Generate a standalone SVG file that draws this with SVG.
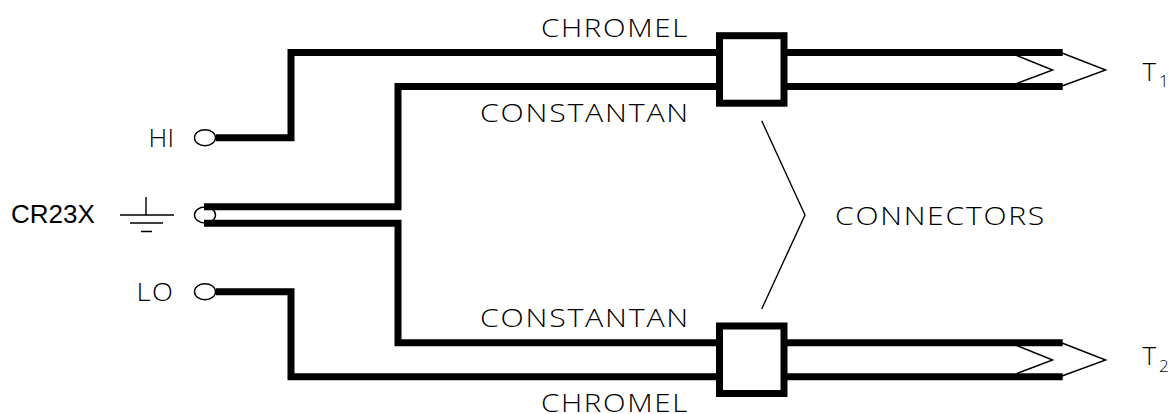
<svg xmlns="http://www.w3.org/2000/svg" width="1168" height="414" viewBox="0 0 1168 414">
<style>
.w{fill:none;stroke:#000;stroke-width:7;stroke-linejoin:miter}
.t{fill:none;stroke:#000;stroke-width:1.4}
.b{fill:#fff;stroke:#000;stroke-width:7}
text{font-family:"Liberation Sans",Arial,sans-serif;fill:#000}
.l{font-size:26px;font-family:"Open Sans","Liberation Sans",sans-serif;font-weight:300;letter-spacing:1.5px}
.s{font-size:17px}
</style>
<rect width="1168" height="414" fill="#fff"/>
<g id="connectors">
<path class="w" d="M216 137.700H291V52.500H720M787 52.500H1062.700"/>
<path class="w" d="M204 206.700H398V86.500H720M787 86.500H1062.700"/>
<path class="w" d="M204 223.300H398V342.700H720M787 342.700H1062.700"/>
<path class="w" d="M216 291.700H291V376.700H720M787 376.700H1062.700"/>
<path class="t" d="M1062 53L1105.700 70L1062 86M1016.700 55.500L1052.700 70L1016.700 83.500"/>
<path class="t" d="M1062 343L1105.700 360L1062 376M1016.700 345.500L1052.700 360L1016.700 373.500"/>
<path class="t" d="M761.700 120.700L805 215L761.700 309"/>
</g>
<g id="hi"><ellipse class="t" cx="205" cy="137.700" rx="10.500" ry="8"/><text class="l" x="148.500" y="147" textLength="27">HI</text></g>
<g id="ground"><ellipse class="t" cx="205" cy="215" rx="10.500" ry="8"/><path class="t" d="M146 197V215M120 215H174M130 223H163M141 231.500H152"/><text x="11" y="222.500" font-size="26">CR23X</text></g>
<g id="lo"><ellipse class="t" cx="205" cy="291.700" rx="10.500" ry="8"/><text class="l" x="136.500" y="301" textLength="38" lengthAdjust="spacingAndGlyphs">LO</text></g>
<g id="connector-top"><rect class="b" x="719.500" y="35.700" width="64.500" height="67.500"/></g>
<g id="connector-bottom"><rect class="b" x="719.500" y="326" width="64.500" height="67.500"/></g>
<g id="labels">
<text class="l" x="541" y="37" textLength="148" lengthAdjust="spacingAndGlyphs">CHROMEL</text>
<text class="l" x="480" y="122" textLength="210" lengthAdjust="spacingAndGlyphs">CONSTANTAN</text>
<text class="l" x="480" y="327" textLength="210" lengthAdjust="spacingAndGlyphs">CONSTANTAN</text>
<text class="l" x="541" y="412" textLength="148" lengthAdjust="spacingAndGlyphs">CHROMEL</text>
<text class="l" x="835" y="225" textLength="211" lengthAdjust="spacingAndGlyphs">CONNECTORS</text>
<text class="l" x="1142.500" y="81">T<tspan class="s" x="1159" y="87">1</tspan></text>
<text class="l" x="1142.500" y="365">T<tspan class="s" x="1159" y="372">2</tspan></text>
</g>
</svg>
